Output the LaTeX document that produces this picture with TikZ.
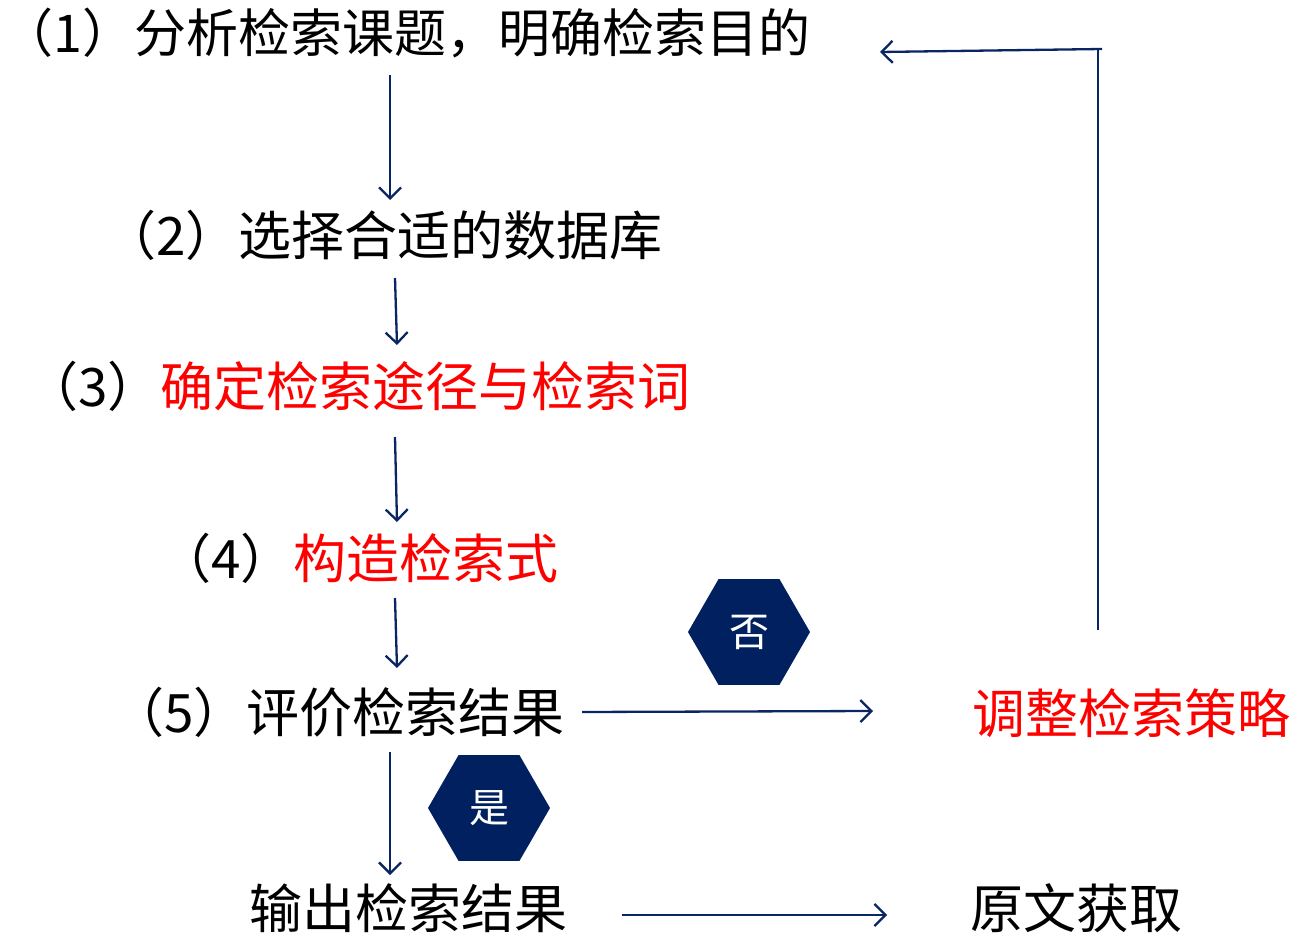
\documentclass[tikz,border=0pt]{standalone}
\usepackage{fontspec}
\setmainfont{Noto Sans CJK SC}
\usetikzlibrary{arrows.meta,shapes.geometric}
\definecolor{navy}{HTML}{0A2563}
\definecolor{hexc}{HTML}{002060}
\definecolor{redc}{HTML}{FF0000}
\begin{document}
\begin{tikzpicture}[x=1pt,y=-1pt,
 lbl/.style={anchor=east,inner sep=0pt,font=\fontsize{53}{53}\selectfont},
 arr/.style={draw=navy,line width=2.3pt,-{Straight Barb[length=11pt,width=22pt,line width=2.3pt]}},
 fb/.style={draw=navy,line width=1.6pt},
 hexa/.style={regular polygon,regular polygon sides=6,fill=hexc,draw=none,minimum size=122pt,inner sep=0pt,text=white,font=\fontsize{40}{40}\selectfont}]
\useasboundingbox (0,0) rectangle (1291,936);

\node[lbl,font=\fontsize{52}{52}\selectfont] (s1) at (811,33) {（1）分析检索课题，明确检索目的};
\node[lbl] (s2) at (663,235) {（2）选择合适的数据库};
\node[lbl] (s3) at (691,386) {（3）\textcolor{redc}{确定检索途径与检索词}};
\node[lbl] (s4) at (559,558) {（4）\textcolor{redc}{构造检索式}};
\node[lbl] (s5) at (565,712) {（5）评价检索结果};
\node[lbl] (s6) at (568,908) {输出检索结果};
\node[lbl] (s7) at (1183,908) {原文获取};
\node[lbl,text=redc] (s8) at (1291,713) {调整检索策略};

\node[hexa] (no) at (749,632) {否};
\node[hexa] (yes) at (489,808) {是};

\coordinate (a1s) at (390,75);  \coordinate (a1e) at (390,200);
\coordinate (a2s) at (395,278); \coordinate (a2e) at (397,345);
\coordinate (a3s) at (395,437); \coordinate (a3e) at (397,522);
\coordinate (a4s) at (395,598); \coordinate (a4e) at (397,668);
\coordinate (a5s) at (390,752); \coordinate (a5e) at (390,875);
\coordinate (h1s) at (582,712); \coordinate (h1e) at (873,711);
\coordinate (h2s) at (622,915); \coordinate (h2e) at (887,915);
\coordinate (fbB) at (1098,630); \coordinate (fbT) at (1098,49);
\coordinate (fbC) at (1102,49); \coordinate (fbE) at (880,52);

\draw[arr] (a1s) -- (a1e);
\draw[arr] (a2s) -- (a2e);
\draw[arr] (a3s) -- (a3e);
\draw[arr] (a4s) -- (a4e);
\draw[arr] (a5s) -- (a5e);
\draw[arr] (h1s) -- (h1e);
\draw[arr] (h2s) -- (h2e);
\draw[fb] (fbB) -- (fbT);
\draw[arr] (fbC) -- (fbE);
\end{tikzpicture}
\end{document}
